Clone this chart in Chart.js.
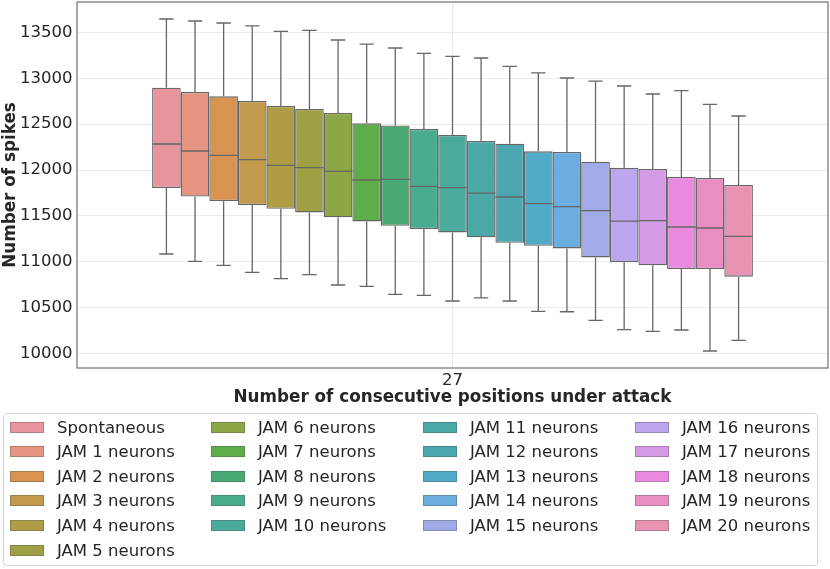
<!DOCTYPE html>
<html>
<head>
<meta charset="utf-8">
<script src="https://cdn.jsdelivr.net/npm/chart.js@4.4.1/dist/chart.umd.min.js"></script>
<style>
  html, body { margin: 0; padding: 0; background: #fff; }
  #wrap { position: relative; width: 830px; height: 569px; font-family: "DejaVu Sans", sans-serif; }
  #c { position: absolute; left: 0; top: 0; }
  #legend { position: absolute; left: 3px; top: 413px; width: 815px; height: 153px;
            border: 1px solid #d4d4d4; border-radius: 4px; box-sizing: border-box; }
  .li { position: absolute; height: 20px; font-size: 16.5px; color: #262626; white-space: nowrap; }
  .sw { position: absolute; top: 4px; left: 0; width: 34px; height: 11px; box-sizing: border-box;
        border: 1px solid rgba(80,80,80,0.35); }
  .tx { position: absolute; left: 47px; top: 0; line-height: 20px; }
</style>
</head>
<body>
<div id="wrap">
  <canvas id="c" width="830" height="569"></canvas>
  <div id="legend"></div>
</div>
<script>
// ---------------- data ----------------
const xLabels = ["27"];
const seriesNames = ["Spontaneous", "JAM 1 neurons", "JAM 2 neurons", "JAM 3 neurons", "JAM 4 neurons",
  "JAM 5 neurons", "JAM 6 neurons", "JAM 7 neurons", "JAM 8 neurons", "JAM 9 neurons", "JAM 10 neurons",
  "JAM 11 neurons", "JAM 12 neurons", "JAM 13 neurons", "JAM 14 neurons", "JAM 15 neurons",
  "JAM 16 neurons", "JAM 17 neurons", "JAM 18 neurons", "JAM 19 neurons", "JAM 20 neurons"];
const whiskerHigh = [13646, 13624, 13602, 13570, 13511, 13522, 13417, 13373, 13330, 13271, 13239,
  13221, 13130, 13058, 13003, 12970, 12916, 12829, 12865, 12716, 12589];
const q3 = [12898, 12851, 12803, 12753, 12698, 12665, 12622, 12509, 12487, 12448, 12382,
  12317, 12288, 12204, 12197, 12091, 12026, 12012, 11925, 11914, 11838];
const median = [12284, 12208, 12160, 12113, 12051, 12026, 11986, 11892, 11899, 11822, 11808,
  11750, 11707, 11634, 11601, 11558, 11445, 11449, 11380, 11369, 11278];
const q1 = [11805, 11713, 11663, 11620, 11579, 11539, 11485, 11441, 11394, 11358, 11321,
  11267, 11209, 11176, 11147, 11049, 10995, 10962, 10922, 10922, 10839];
const whiskerLow = [11086, 11005, 10962, 10886, 10817, 10861, 10748, 10733, 10646, 10635, 10574,
  10607, 10574, 10461, 10457, 10363, 10261, 10243, 10258, 10029, 10145];
const yTicks = [10000, 10500, 11000, 11500, 12000, 12500, 13000, 13500];

// ---------------- palette ----------------
const colors = ["#E8949F", "#E5957F", "#D99350", "#C29A4E", "#B09C45", "#9EA043", "#8BA746",
  "#5EAD4A", "#48AA72", "#49AC8E", "#4AAA9C", "#4AA9A6", "#4BA8B0", "#51AAC8", "#6CADE0",
  "#A1ABE8", "#BCA6EC", "#D49AE6", "#E98ADF", "#E88EC5", "#E893B4"];
const lineGray = '#666666';

// ---------------- chart ----------------
const boxPlugin = {
  id: 'boxWhiskers',
  afterDatasetsDraw(chart) {
    const ctx = chart.ctx, y = chart.scales.y;
    ctx.save();
    ctx.strokeStyle = lineGray;
    ctx.lineWidth = 1.3;
    chart.data.datasets.forEach((ds, i) => {
      const bar = chart.getDatasetMeta(i).data[0];
      if (!bar) return;
      const x = bar.x, w = bar.width, cap = w * 0.25;
      const yHi = y.getPixelForValue(whiskerHigh[i]), yQ3 = y.getPixelForValue(q3[i]);
      const yLo = y.getPixelForValue(whiskerLow[i]), yQ1 = y.getPixelForValue(q1[i]);
      const yMed = y.getPixelForValue(median[i]);
      ctx.beginPath();
      ctx.moveTo(x, yQ3); ctx.lineTo(x, yHi);
      ctx.moveTo(x - cap, yHi); ctx.lineTo(x + cap, yHi);
      ctx.moveTo(x, yQ1); ctx.lineTo(x, yLo);
      ctx.moveTo(x - cap, yLo); ctx.lineTo(x + cap, yLo);
      ctx.moveTo(x - w / 2, yMed); ctx.lineTo(x + w / 2, yMed);
      ctx.stroke();
    });
    ctx.restore();
  },
  afterDraw(chart) {
    const a = chart.chartArea, ctx = chart.ctx;
    ctx.save();
    ctx.strokeStyle = '#777777';
    ctx.lineWidth = 1.25;
    ctx.strokeRect(a.left, a.top, a.right - a.left, a.bottom - a.top);
    ctx.restore();
  }
};

const datasets = seriesNames.map((name, i) => ({
  label: name,
  data: [[q1[i], q3[i]]],
  backgroundColor: colors[i],
  borderColor: lineGray,
  borderWidth: 1.3,
  borderSkipped: false,
  categoryPercentage: 0.8,
  barPercentage: 1.0
}));

Chart.defaults.font.family = '"DejaVu Sans", sans-serif';
Chart.defaults.color = '#262626';

new Chart(document.getElementById('c'), {
  type: 'bar',
  data: { labels: xLabels, datasets },
  plugins: [boxPlugin],
  options: {
    responsive: false,
    animation: false,
    devicePixelRatio: 1,
    layout: { padding: { left: 0, top: 2, right: 2, bottom: 161 } },
    plugins: { legend: { display: false }, tooltip: { enabled: false } },
    scales: {
      x: {
        offset: true,
        grid: { offset: false, color: '#ebebeb', lineWidth: 1, drawTicks: false },
        border: { display: false },
        ticks: { font: { size: 16.5 }, padding: 3, color: '#262626' },
        title: { display: true, text: 'Number of consecutive positions under attack',
                 font: { size: 16.8, weight: 'bold' }, color: '#262626', padding: { top: 0, bottom: 0 } },
        afterFit(s) { s.height = 40; s.paddingLeft = 0; s.paddingRight = 0; }
      },
      y: {
        min: 9844, max: 13831,
        grid: { color: '#ebebeb', lineWidth: 1, drawTicks: false },
        border: { display: false },
        afterBuildTicks(s) { s.ticks = yTicks.map(v => ({ value: v })); },
        ticks: { font: { size: 16.5 }, padding: 4.5, color: '#262626', callback: v => String(v) },
        title: { display: true, text: 'Number of spikes',
                 font: { size: 16.8, weight: 'bold' }, color: '#262626', padding: { top: 0.5, bottom: 0 } },
        afterFit(s) { s.width = 77; s.paddingTop = 0; s.paddingBottom = 0; }
      }
    }
  }
});

// ---------------- legend (matplotlib style, 4 columns, column-major) ----------------
const legend = document.getElementById('legend');
const colX = [6, 207, 419, 631];
seriesNames.forEach((name, i) => {
  let col, row;
  if (i < 6) { col = 0; row = i; } else { col = 1 + Math.floor((i - 6) / 5); row = (i - 6) % 5; }
  const item = document.createElement('div');
  item.className = 'li';
  item.style.left = colX[col] + 'px';
  item.style.top = (3.5 + row * 24.6) + 'px';
  const sw = document.createElement('div');
  sw.className = 'sw';
  sw.style.background = colors[i];
  const tx = document.createElement('div');
  tx.className = 'tx';
  tx.textContent = name;
  item.appendChild(sw); item.appendChild(tx);
  legend.appendChild(item);
});
</script>
</body>
</html>
